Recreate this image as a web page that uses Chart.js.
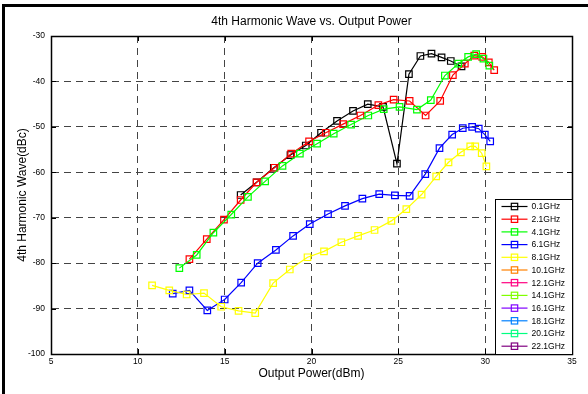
<!DOCTYPE html>
<html><head><meta charset="utf-8">
<script src="https://cdn.jsdelivr.net/npm/chart.js@4.4.1/dist/chart.umd.min.js"></script>
<style>html,body{margin:0;padding:0;background:#fff;}#wrap{width:588px;height:394px;position:relative;}</style>
</head><body><div id="wrap"><canvas id="c" width="588" height="394"></canvas></div>
<script>
const chartTitle = '4th Harmonic Wave vs. Output Power';
const xTitle = 'Output Power(dBm)';
const yTitle = '4th Harmonic Wave(dBc)';
const seriesNames = ['0.1GHz','2.1GHz','4.1GHz','6.1GHz','8.1GHz','10.1GHz','12.1GHz','14.1GHz','16.1GHz','18.1GHz','20.1GHz','22.1GHz'];
const seriesColors = ['#000000','#ff0000','#00ff00','#0000ff','#ffff00','#ff8000','#ff0080','#80ff00','#8000ff','#0080ff','#00ff80','#800080'];

const x01 = [15.92,16.84,17.83,18.79,19.67,20.55,21.47,22.39,23.24,24.12,24.92,25.61,26.27,26.91,27.49,28.02,28.64];
const y01 = [-65.0,-62.2,-59.0,-56.2,-54.1,-51.3,-48.7,-46.5,-45.0,-45.6,-58.1,-38.4,-34.4,-33.9,-34.7,-35.5,-36.7];
const x21 = [12.97,13.97,14.96,15.92,16.84,17.87,18.83,19.86,20.82,21.82,22.82,23.85,24.73,25.65,26.57,27.41,28.14,28.83,29.37,29.83,30.21,30.52];
const y21 = [-79.1,-74.7,-70.4,-66.1,-62.2,-59.0,-55.9,-53.2,-51.3,-49.4,-47.5,-45.2,-44.0,-44.3,-47.5,-44.3,-38.6,-36.1,-34.3,-34.6,-35.8,-37.5];
const x41 = [12.39,13.39,14.35,15.38,16.34,17.33,18.33,19.33,20.32,21.28,22.28,23.27,24.16,25.07,26.07,26.87,27.68,28.45,29.02,29.48,29.90,30.24];
const y41 = [-81.1,-78.2,-73.3,-69.3,-65.4,-62.0,-58.6,-55.9,-53.7,-51.5,-49.5,-47.5,-46.1,-45.6,-46.2,-44.1,-38.7,-36.1,-34.6,-34.0,-35.0,-36.5];
const x61 = [12.01,12.97,14.00,15.00,15.95,16.90,17.95,18.94,19.90,20.95,21.93,22.93,23.90,24.80,25.65,26.55,27.37,28.10,28.71,29.25,29.63,29.98,30.29];
const y61 = [-86.7,-86.0,-90.4,-88.0,-84.3,-80.0,-77.1,-74.0,-71.4,-69.2,-67.4,-65.8,-64.8,-65.1,-65.2,-60.4,-54.7,-51.7,-50.3,-50.0,-50.4,-51.7,-53.2];
const x81 = [10.82,11.81,12.81,13.81,14.80,15.80,16.76,17.79,18.75,19.77,20.72,21.72,22.68,23.63,24.60,25.46,26.34,27.18,27.89,28.60,29.14,29.43,29.80,30.07];
const y81 = [-84.9,-86.0,-86.9,-86.6,-89.6,-90.5,-91.0,-84.4,-81.4,-78.7,-77.4,-75.4,-74.0,-72.7,-70.7,-68.1,-64.9,-60.9,-57.8,-55.6,-54.3,-54.3,-55.8,-58.7];
const xEmpty = [];
const yEmpty = [];

const seriesX = [x01,x21,x41,x61,x81,xEmpty,xEmpty,xEmpty,xEmpty,xEmpty,xEmpty,xEmpty];
const seriesY = [y01,y21,y41,y61,y81,yEmpty,yEmpty,yEmpty,yEmpty,yEmpty,yEmpty,yEmpty];

const xMin = 5, xMax = 35, xStep = 5;
const yMin = -100, yMax = -30, yStep = 10;

const FONT = "'Liberation Sans', Arial, sans-serif";

const datasets = seriesNames.map((name, i) => ({
  label: name,
  data: seriesX[i].map((x, k) => ({x: x, y: seriesY[i][k]})),
  borderColor: seriesColors[i],
  backgroundColor: 'rgba(0,0,0,0)',
  pointBackgroundColor: 'rgba(0,0,0,0)',
  pointBorderColor: seriesColors[i],
  pointStyle: 'rect',
  pointRadius: 4.6,
  pointBorderWidth: 1.2,
  borderWidth: 1.2,
  tension: 0,
  fill: false,
  order: -i
}));

const decor = {
  id: 'decor',
  afterDatasetsDraw(chart) {
    const ctx = chart.ctx, a = chart.chartArea;
    const xs = chart.scales.x, ys = chart.scales.y;
    ctx.save();
    ctx.strokeStyle = '#000';
    ctx.lineWidth = 1;
    ctx.setLineDash([]);
    ctx.beginPath();
    for (let v = xMin; v <= xMax; v += xStep) {
      const px = Math.round(xs.getPixelForValue(v)) + 0.5;
      ctx.moveTo(px, a.bottom); ctx.lineTo(px, a.bottom - 5);
      ctx.moveTo(px, a.top); ctx.lineTo(px, a.top + 5);
    }
    for (let v = yMin; v <= yMax; v += yStep) {
      const py = Math.round(ys.getPixelForValue(v)) + 0.5;
      ctx.moveTo(a.left, py); ctx.lineTo(a.left + 5, py);
      ctx.moveTo(a.right, py); ctx.lineTo(a.right - 5, py);
    }
    ctx.stroke();
    ctx.lineWidth = 1.5;
    ctx.strokeRect(Math.round(a.left) + 0.5, Math.round(a.top) + 0.5, Math.round(a.right - a.left), Math.round(a.bottom - a.top));
    ctx.restore();
  },
  afterDraw(chart) {
    const ctx = chart.ctx, a = chart.chartArea;
    ctx.save();
    // title
    ctx.fillStyle = '#000';
    ctx.font = '12px ' + FONT;
    ctx.textAlign = 'center';
    ctx.textBaseline = 'middle';
    ctx.fillText(chartTitle, (a.left + a.right) / 2, 22);
    // legend
    const bw = 77, bh = 155;
    const bx = Math.round(a.right - bw) + 0.5, by = Math.round(a.bottom - bh) + 0.5;
    ctx.fillStyle = '#fff';
    ctx.fillRect(bx, by, bw, bh);
    ctx.strokeStyle = '#000';
    ctx.lineWidth = 1;
    ctx.strokeRect(bx, by, bw, bh);
    ctx.font = '8.5px ' + FONT;
    ctx.textAlign = 'left';
    seriesNames.forEach((name, i) => {
      const y = by + 7 + i * 12.7;
      ctx.strokeStyle = seriesColors[i];
      ctx.lineWidth = 1.2;
      ctx.beginPath();
      ctx.moveTo(bx + 6, y); ctx.lineTo(bx + 32, y);
      ctx.stroke();
      ctx.strokeRect(bx + 19 - 3.2, y - 3.2, 6.4, 6.4);
      ctx.fillStyle = '#000';
      ctx.fillText(name, bx + 36, y + 0.5);
    });
    // outer frame
    ctx.fillStyle = '#000';
    ctx.fillRect(2, 4, 586, 3);
    ctx.fillRect(2, 4, 3, 390);
    ctx.restore();
  }
};

new Chart(document.getElementById('c'), {
  type: 'line',
  data: { datasets: datasets },
  options: {
    responsive: false,
    animation: false,
    devicePixelRatio: 1,
    layout: { padding: { top: 36, right: 16, left: 0, bottom: 0 } },
    plugins: { legend: { display: false }, title: { display: false }, tooltip: { enabled: false } },
    scales: {
      x: {
        type: 'linear', min: xMin, max: xMax,
        afterFit: s => { s.height = 40; },
        ticks: { stepSize: xStep, color: '#000', font: { family: FONT, size: 8.5 }, padding: 3, maxRotation: 0, autoSkip: false },
        grid: { color: '#444', lineWidth: 1, drawTicks: false },
        border: { display: true, color: '#000', width: 1, dash: [7, 5] },
        title: { display: true, text: xTitle, color: '#000', font: { family: FONT, size: 12 }, padding: { top: 0, bottom: 13 } }
      },
      y: {
        type: 'linear', min: yMin, max: yMax,
        afterFit: s => { s.width = 51; },
        ticks: { stepSize: yStep, color: '#000', font: { family: FONT, size: 8.5 }, padding: 6, autoSkip: false },
        grid: { color: '#444', lineWidth: 1, drawTicks: false },
        border: { display: true, color: '#000', width: 1, dash: [7, 5] },
        title: { display: true, text: yTitle, color: '#000', font: { family: FONT, size: 12 }, padding: { top: 15, bottom: 0 } }
      }
    }
  },
  plugins: [decor]
});
</script>
</body></html>
